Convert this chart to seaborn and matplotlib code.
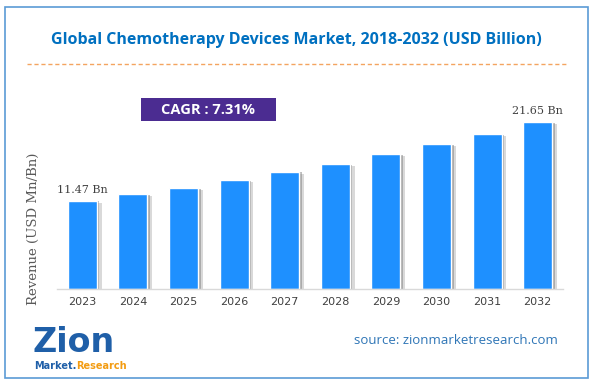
import matplotlib
matplotlib.use("Agg")
import matplotlib.pyplot as plt
import matplotlib.patheffects as pe
from matplotlib.patches import Rectangle
from matplotlib.lines import Line2D
import pandas as pd
import seaborn as sns

years = ["2023", "2024", "2025", "2026", "2027", "2028", "2029", "2030", "2031", "2032"]
revenue = [11.47, 12.3, 13.1, 14.1, 15.2, 16.2, 17.5, 18.8, 20.1, 21.65]
first_label = "11.47 Bn"
last_label = "21.65 Bn"
cagr_text = "CAGR : 7.31%"

df = pd.DataFrame({"year": years, "revenue": revenue})

sns.set_style("white")
plt.rcParams['font.family'] = ['DejaVu Sans']

fig = plt.figure(figsize=(5.93, 3.84), dpi=100)
fig.patch.set_facecolor('white')
ax = fig.add_axes([57/593, 1 - 289/384, 506/593, 189/384])

sns.barplot(data=df, x="year", y="revenue", color="#1E90FF", saturation=1,
            width=0.57, ax=ax)
for bar in ax.patches:
    bar.set_path_effects([pe.SimplePatchShadow(offset=(3.5, -1.5), shadow_rgbFace='#a0a0a0', alpha=0.4),
                          pe.SimplePatchShadow(offset=(2, -0.5), shadow_rgbFace='#7f7f7f', alpha=0.5),
                          pe.Normal()])

ax.set_xlim(-0.5, 9.5)
ax.set_ylim(0, 24.5)
ax.set_yticks([])
ax.set_xlabel("")
ax.set_ylabel("Revenue (USD Mn/Bn)", family="DejaVu Serif", fontsize=9.5, color="#595959")
ax.yaxis.set_label_coords(-0.033, 0.317)
for s in ["top", "right", "left"]:
    ax.spines[s].set_visible(False)
ax.spines["bottom"].set_color("#D9D9D9")
ax.spines["bottom"].set_linewidth(1)
ax.tick_params(axis="x", length=0, labelsize=8, labelcolor="#404040", pad=6)

ax.annotate(first_label, (0, revenue[0]), xytext=(0, 4), textcoords="offset points",
            ha="center", va="bottom", family="DejaVu Serif", fontsize=8, color="#404040")
ax.annotate(last_label, (9, revenue[-1]), xytext=(0, 4), textcoords="offset points",
            ha="center", va="bottom", family="DejaVu Serif", fontsize=8, color="#404040")

# frame and header
fig.add_artist(Rectangle((5/593, 6/384), 583/593, 371/384, transform=fig.transFigure,
                         fill=False, edgecolor="#5B9BD5", linewidth=1.2))
fig.text(0.5, 1 - 40/384, "Global Chemotherapy Devices Market, 2018-2032 (USD Billion)",
         ha="center", va="center", fontsize=11.5, fontweight="bold", color="#0070C0",
         family="Open Sans")
fig.add_artist(Line2D([27/593, 567/593], [1 - 64/384, 1 - 64/384], transform=fig.transFigure,
                      color="#F4A460", linewidth=1, linestyle=(0, (3, 2))))

# CAGR box
fig.add_artist(Rectangle((141/593, 1 - 121/384), 135/593, 23/384, transform=fig.transFigure,
                         facecolor="#4B2C91", edgecolor="none"))
fig.text(208/593, 1 - 110/384, cagr_text, ha="center", va="center", fontsize=10.5,
         fontweight="bold", color="white", family="Open Sans")

# logo + source
fig.text(33/593, 1 - 343/384, "Zion", ha="left", va="center", fontsize=24, fontweight="bold",
         color="#1F5FA8", family="DejaVu Sans")
mk = fig.text(34/593, 1 - 366/384, "Market.", ha="left", va="center", fontsize=7,
              fontweight="bold", color="#1F5FA8", family="DejaVu Sans")
ax.annotate("Research", xy=(1, 0.5), xycoords=mk, ha="left", va="center", fontsize=7,
            fontweight="bold", color="#F39C12", family="DejaVu Sans", annotation_clip=False)
fig.text(558/593, 1 - 341/384, "source: zionmarketresearch.com", ha="right", va="center",
         fontsize=9.5, color="#2E75B6", family="Open Sans")

fig.savefig("out.png", dpi=100)
